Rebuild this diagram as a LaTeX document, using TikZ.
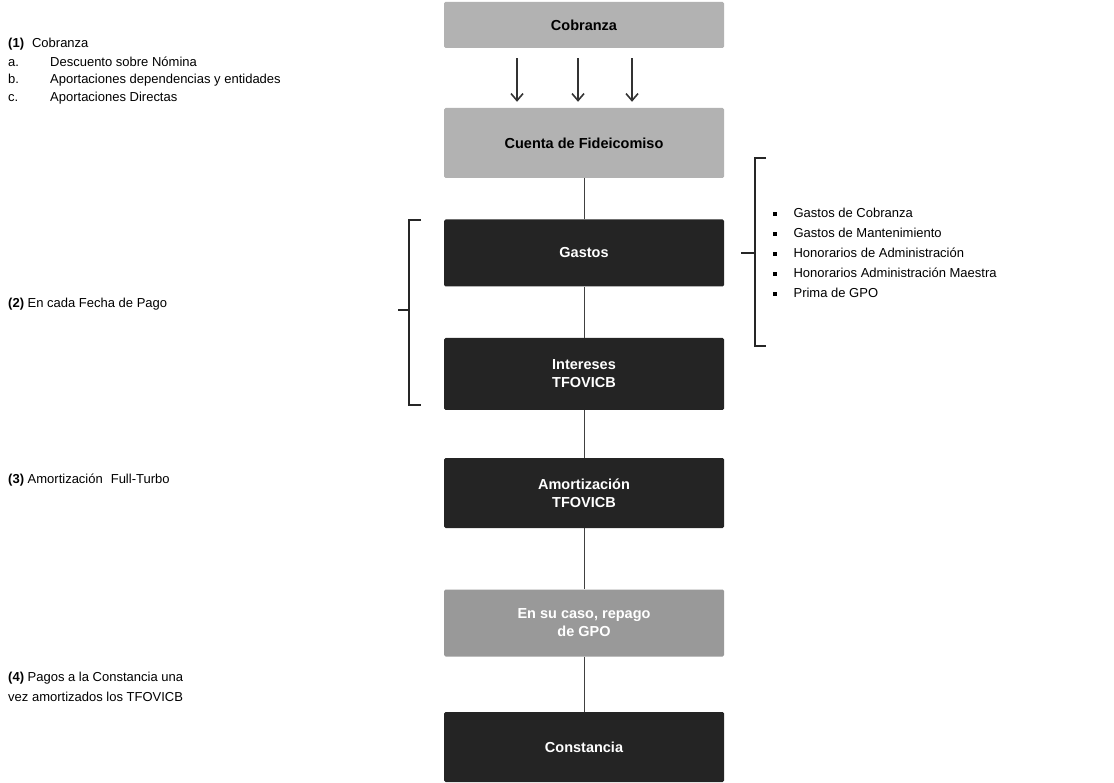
\documentclass[tikz,border=0pt]{standalone}
\usepackage{fontspec}
\setmainfont{Liberation Sans}
\usetikzlibrary{arrows.meta}
\newcommand{\sqbul}{\raisebox{2pt}{\rule{3.4pt}{3.8pt}}\hspace{17pt}}
\begin{document}
\begin{tikzpicture}[x=1pt,y=-1pt,
  box/.style={rectangle, minimum width=280pt, inner sep=0pt, align=center,
    font=\fontsize{14.5}{18}\selectfont\bfseries, rounded corners=1.5pt},
  light/.style={box, fill=black!30, text=black},
  mid/.style={box, fill=black!40, text=white},
  dark/.style={box, fill=black!86, text=white},
  conn/.style={draw=black!75, line width=1pt},
  arr/.style={draw=black!80, line width=1.6pt, -{Straight Barb[length=7pt,width=12pt,line width=1.6pt]}},
  brk/.style={draw=black!85, line width=1.3pt},
  lbl/.style={anchor=west, inner sep=0pt, font=\fontsize{13}{15}\selectfont},
]
\useasboundingbox (0,0) rectangle (1114,783);

% main column
\node[light, minimum height=46pt] (cob) at (584,25) {Cobranza};
\node[light, minimum height=70pt] (cue) at (584,143) {Cuenta de Fideicomiso};
\node[dark, minimum height=67pt] (gas) at (584,253) {Gastos};
\node[dark, minimum height=72pt] (int) at (584,374) {Intereses\\TFOVICB};
\node[dark, minimum height=70pt] (amo) at (584,493) {Amortización\\TFOVICB};
\node[mid, minimum height=67pt] (gpo) at (584,623) {En su caso, repago\\de GPO};
\node[dark, minimum height=70pt] (con) at (584,747) {Constancia};

% arrows from Cobranza to Cuenta
\draw[arr, shorten <=10pt, shorten >=6pt] ([xshift=-67pt]cob.south) -- ([xshift=-67pt]cue.north);
\draw[arr, shorten <=10pt, shorten >=6pt] ([xshift=-6pt]cob.south) -- ([xshift=-6pt]cue.north);
\draw[arr, shorten <=10pt, shorten >=6pt] ([xshift=48pt]cob.south) -- ([xshift=48pt]cue.north);

% connectors
\draw[conn] (cue) -- (gas);
\draw[conn] (gas) -- (int);
\draw[conn] (int) -- (amo);
\draw[conn] (amo) -- (gpo);
\draw[conn] (gpo) -- (con);

% left bracket
\draw[brk] (421,220) -- (409,220) -- (409,405) -- (421,405);
\draw[brk] (409,310) -- (398,310);

% right bracket
\draw[brk] (766,158) -- (755,158) -- (755,346) -- (766,346);
\draw[brk] (755,253) -- (741,253);

% right list
\node[lbl] (l1) at (773,213) {\sqbul Gastos de Cobranza};
\node[lbl] (l2) at (773,233) {\sqbul Gastos de Mantenimiento};
\node[lbl] (l3) at (773,253) {\sqbul Honorarios de Administración};
\node[lbl] (l4) at (773,273) {\sqbul Honorarios Administración Maestra};
\node[lbl] (l5) at (773,293) {\sqbul Prima de GPO};

% left texts
\node[lbl] (t1) at (8,44) {\textbf{(1)}\hspace{8pt}Cobranza};
\node[lbl] (t1a) at (8,62) {\makebox[42pt][l]{a.}Descuento sobre Nómina};
\node[lbl] (t1b) at (8,80) {\makebox[42pt][l]{b.}Aportaciones dependencias y entidades};
\node[lbl] (t1c) at (8,98) {\makebox[42pt][l]{c.}Aportaciones Directas};
\node[lbl] (t2) at (8,304) {\textbf{(2)} En cada Fecha de Pago};
\node[lbl] (t3) at (8,480) {\textbf{(3)} Amortización\hspace{8pt}Full-Turbo};
\node[lbl] (t4a) at (8,678) {\textbf{(4)} Pagos a la Constancia una};
\node[lbl] (t4b) at (8,697) {vez amortizados los TFOVICB};
\end{tikzpicture}
\end{document}
